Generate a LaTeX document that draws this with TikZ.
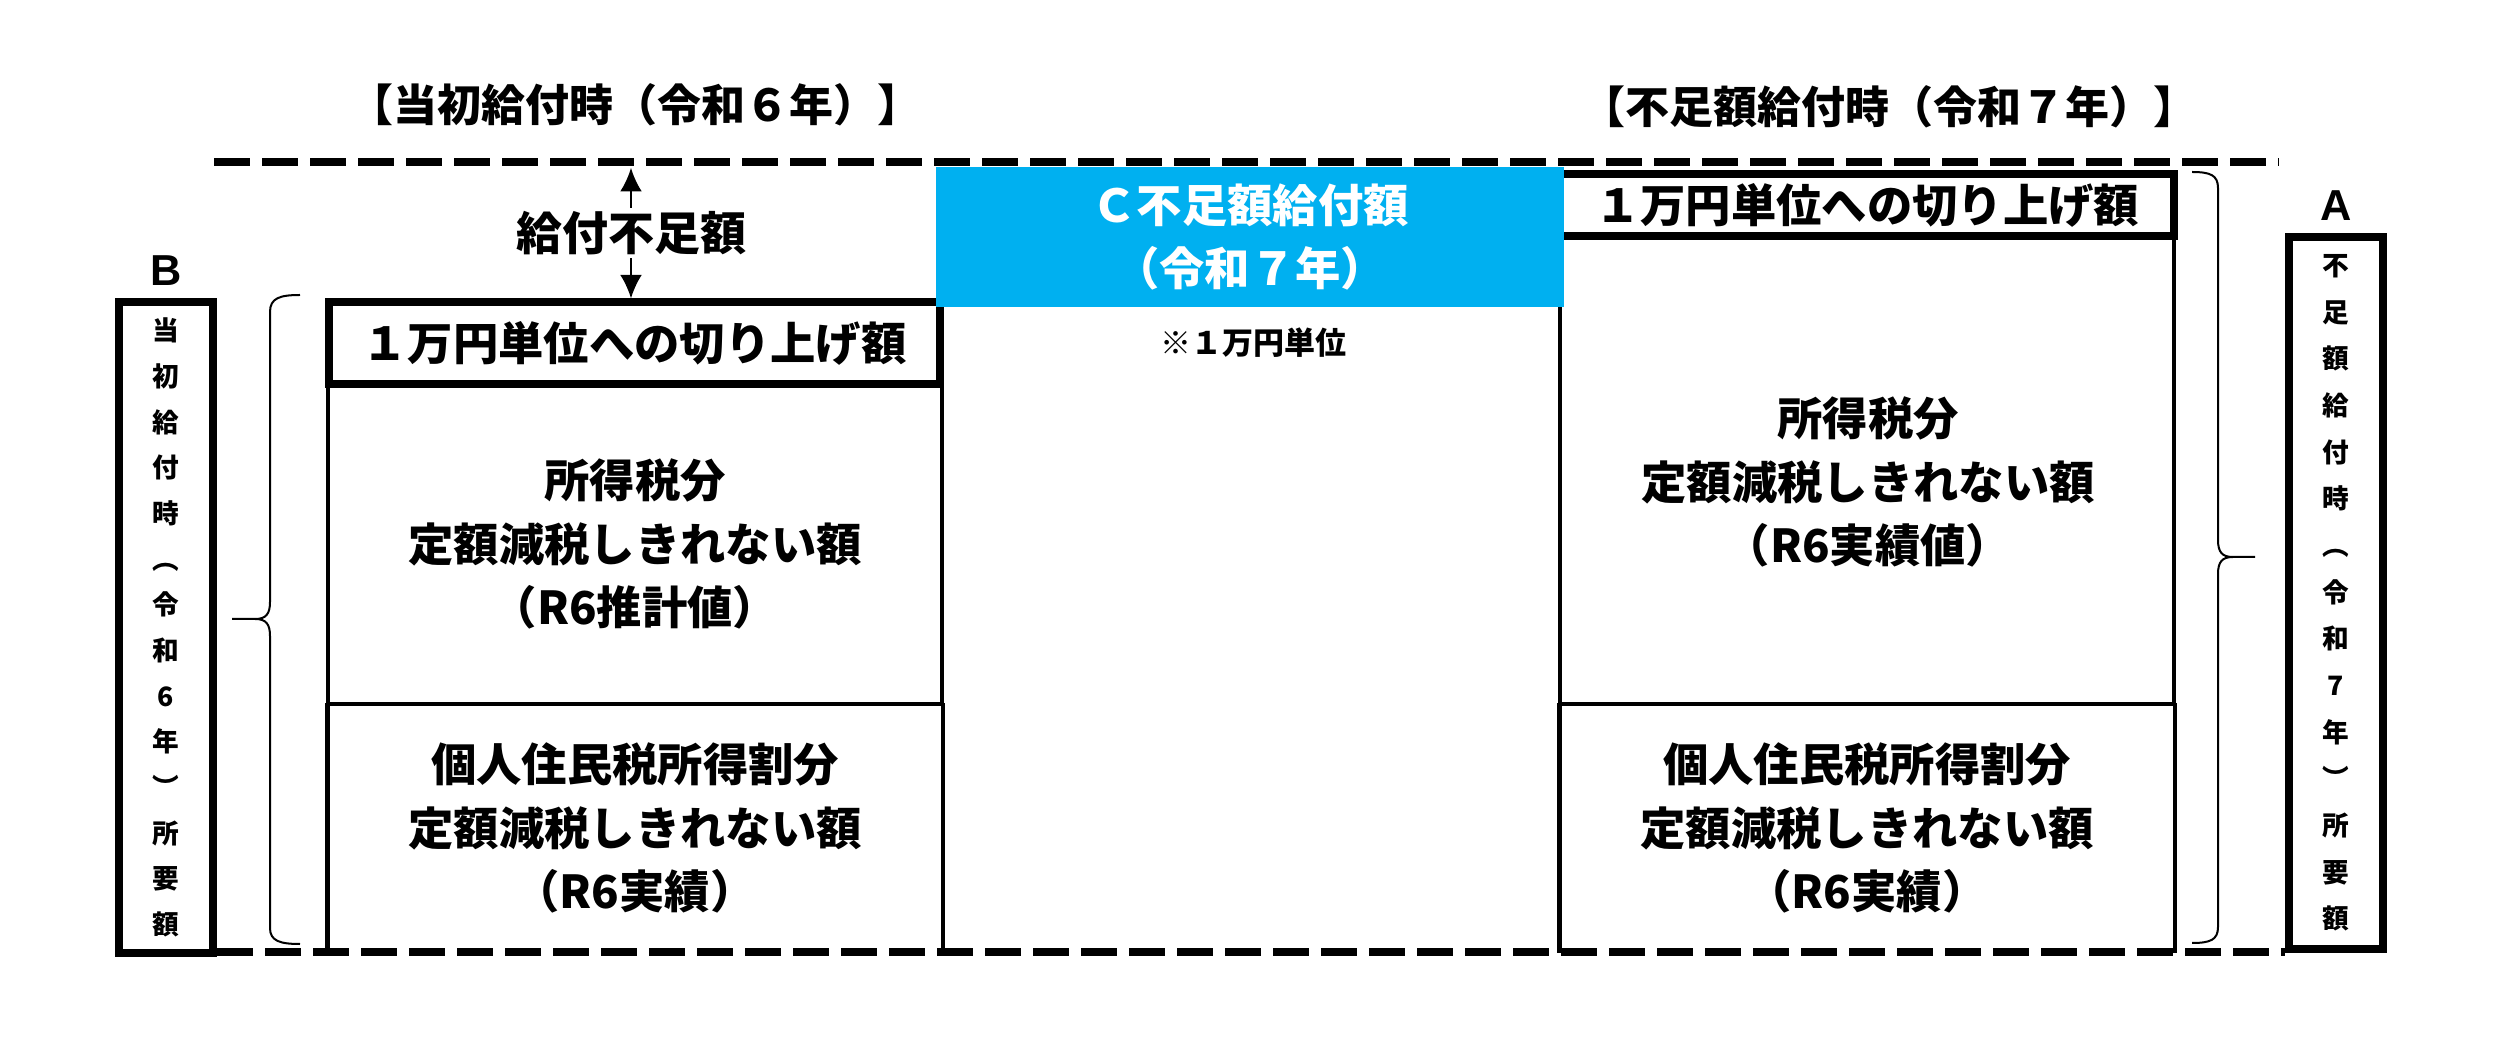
\documentclass[tikz,border=0pt]{standalone}
\usepackage{fontspec}
\setmainfont{Noto Sans CJK JP}
\newfontfamily\labelfont{Liberation Sans}
\usetikzlibrary{positioning,arrows.meta}
\tikzset{>={Latex[length=7pt,width=6.5pt]}}
\definecolor{cblue}{RGB}{0,176,240}
\tikzset{
  heading/.style={font=\fontsize{13.2}{15}\selectfont\bfseries},
  txt/.style={font=\fontsize{13.6}{19.1}\selectfont\bfseries, align=center},
  thickbox/.style={draw, line width=2.2pt, inner sep=0pt},
  colbox/.style={draw, line width=1.3pt, inner sep=0pt},
  sidebox/.style={draw, line width=2.2pt, inner sep=0pt, minimum width=28.2pt},
  vert/.style={font=\fontsize{8}{13.7}\selectfont\bfseries, align=center},
  boundary/.style={line width=2.3pt, dash pattern=on 10.8pt off 3.6pt},
  curly/.style={line width=0.6pt},
  tag/.style={font=\labelfont\fontsize{13}{15}\selectfont\bfseries, inner sep=0pt},
}

\begin{document}
\begin{tikzpicture}[x=0.3pt,y=-0.3pt]
\useasboundingbox (0,0) rectangle (2506,1062);

% headings
\node[heading] (head6) at (635,105) {【当初給付時（令和６年）】};
\node[heading] (head7) at (1889,107) {【不足額給付時（令和７年）】};

% dashed limits
\draw[boundary] (214,162) -- (2278,162);
\draw[boundary] (217,952) -- (2285,952);

% left column (R6)
\node[colbox, txt, minimum width=184.2pt, minimum height=96pt] (ltax) at (635,544)
  {所得税分\\定額減税しきれない額\\（R6推計値）};
\node[txt, inner sep=0pt, minimum width=184.2pt, minimum height=74.4pt] (lres) at (635,828)
  {個人住民税所得割分\\定額減税しきれない額\\（R6実績）};
\draw[line width=1.3pt] (lres.north west) -- (lres.south west)
                        (lres.north east) -- (lres.south east);
\node[thickbox, txt, fill=white, minimum width=183.3pt, minimum height=24.6pt] (lround) at (634.5,343)
  {１万円単位への切り上げ額};

% right column (R7)
\node[colbox, minimum width=184.2pt, minimum height=140.4pt] (rtax) at (1867,470) {};
\node[txt] (rtaxtext) at (1868,482) {所得税分\\定額減税しきれない額\\（R6実績値）};
\node[txt, inner sep=0pt, minimum width=184.2pt, minimum height=74.4pt] (rres) at (1867,828)
  {個人住民税所得割分\\定額減税しきれない額\\（R6実績）};
\draw[line width=1.3pt] (rres.north west) -- (rres.south west)
                        (rres.north east) -- (rres.south east);
\node[thickbox, txt, fill=white, minimum width=184.2pt, minimum height=18.6pt] (rround) at (1867,205)
  {１万円単位への切り上げ額};

% middle
\node[txt, fill=cblue, text=white, inner sep=0pt, minimum width=188.4pt, minimum height=42pt] (cpay) at (1250,237)
  {Ｃ不足額給付額\\（令和７年）};
\node[font=\fontsize{9.3}{11}\selectfont\bfseries] (unit) at (1253,343) {※１万円単位};

% shortfall arrow
\coordinate (gaptop) at (631,168);
\draw[<->, line width=0.6pt] (gaptop) -- node[txt, fill=white, inner sep=1pt, font=\fontsize{13.8}{15}\selectfont\bfseries] (gap) {給付不足額}
  (gaptop |- lround.north);

% braces
\draw[curly] (300,295) .. controls (280,295) and (270,298) .. (270,312) -- (270,602)
  .. controls (270,614) and (266,619) .. (255,619) -- (232,619) -- (255,619)
  .. controls (266,619) and (270,624) .. (270,636) -- (270,928)
  .. controls (270,941) and (280,944) .. (300,944);
\draw[curly] (2192,172) .. controls (2210,172) and (2218,175) .. (2218,188) -- (2218,540)
  .. controls (2218,552) and (2222,557) .. (2233,557) -- (2255,557) -- (2233,557)
  .. controls (2222,557) and (2218,562) .. (2218,574) -- (2218,927)
  .. controls (2218,940) and (2210,943) .. (2192,943);

% side boxes
\node[sidebox, vert, minimum height=195.3pt] (bbox) at (166,627.5)
  {当\\初\\給\\付\\時\\︵\\令\\和\\6\\年\\︶\\所\\要\\額};
\node[sidebox, vert, font=\fontsize{8}{14}\selectfont\bfseries, minimum height=213.6pt] (abox) at (2336,593)
  {不\\足\\額\\給\\付\\時\\︵\\令\\和\\7\\年\\︶\\所\\要\\額};
\node[tag, above=3.6pt of bbox] (blabel) {B};
\node[tag, above=3.6pt of abox] (alabel) {A};
\end{tikzpicture}
\end{document}
